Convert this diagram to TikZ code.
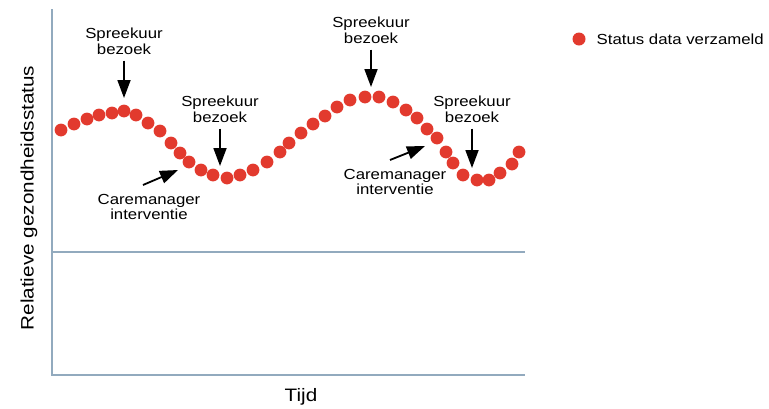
\documentclass[tikz,border=0pt]{standalone}
\usepackage{fontspec}
\setmainfont[FakeStretch=1.15]{Liberation Sans}
\usetikzlibrary{arrows.meta, positioning}

\definecolor{dotred}{RGB}{226,58,46}
\definecolor{axisblue}{RGB}{146,170,190}

\begin{document}
\begin{tikzpicture}[
  x=0.5pt, y=-0.5pt,
  axis/.style={draw=axisblue, line width=0.8pt},
  datadot/.style={fill=dotred},
  note/.style={align=center, inner sep=0pt, font=\fontsize{7.3}{6.6}\selectfont},
  axislabel/.style={inner sep=0pt, font=\fontsize{9}{10}\selectfont},
  pointer/.style={-{Triangle[width=6.5pt, length=9pt]}, line width=0.9pt}
]
\useasboundingbox (0,0) rectangle (769,408);

% axes and reference line
\coordinate (origin) at (52,375);
\coordinate (ytop) at (52,9);
\coordinate (xend) at (525,375);
\coordinate (midl) at (52,252);
\coordinate (midr) at (525,252);
\draw[axis] (ytop) -- (origin) -- (xend);
\draw[axis] (midl) -- (midr);

\node[axislabel, rotate=90] (ylab) at (29,198) {Relatieve gezondheidsstatus};
\node[axislabel] (xlab) at (301,397) {Tijd};

% collected status data
\foreach \px/\py in {61/130, 74/124, 87/119, 99/115, 112/113, 124/111, 136/115,
  148/123, 160/131, 171/143, 180/153, 189/162, 201/170, 213/175, 227/178,
  240/175, 253/170, 267/162, 280/152, 289/143, 301/133, 313/124, 325/116,
  337/107, 350/100, 365/97, 379/97, 393/102, 406/110, 417/118, 427/129,
  437/138, 446/152, 453/163, 463/175, 477/180, 489/180, 500/173, 512/164, 519/152}
  \fill[datadot] (\px,\py) circle (6.4);

% visits
\node[note] (visit1) at (124,41) {Spreekuur\\bezoek};
\node[note] (visit2) at (220,109) {Spreekuur\\bezoek};
\node[note] (visit3) at (371,30) {Spreekuur\\bezoek};
\node[note] (visit4) at (472,109) {Spreekuur\\bezoek};

\coordinate (visit1tip) at (124,98);
\coordinate (visit2tip) at (220,166);
\coordinate (visit3tip) at (371,87);
\coordinate (visit4tip) at (472,168);

\draw[pointer] ([yshift=-3pt]visit1.south) -- (visit1tip);
\draw[pointer] ([yshift=-3pt]visit2.south) -- (visit2tip);
\draw[pointer] ([yshift=-3pt]visit3.south) -- (visit3tip);
\draw[pointer] ([yshift=-3pt]visit4.south) -- (visit4tip);

% interventions
\node[note] (care1) at (149,207) {Caremanager\\interventie};
\node[note] (care2) at (395,182) {Caremanager\\interventie};

\coordinate (care1tail) at (143,185);
\coordinate (care1tip) at (178,170);
\coordinate (care2tail) at (390,160);
\coordinate (care2tip) at (425,146);
\draw[pointer] (care1tail) -- (care1tip);
\draw[pointer] (care2tail) -- (care2tip);

% legend
\node[circle, fill=dotred, inner sep=0pt, minimum size=6.5pt] (legenddot) at (579,39) {};
\node[note, right=5.2pt of legenddot] (legendtext) {Status data verzameld};
\end{tikzpicture}
\end{document}
